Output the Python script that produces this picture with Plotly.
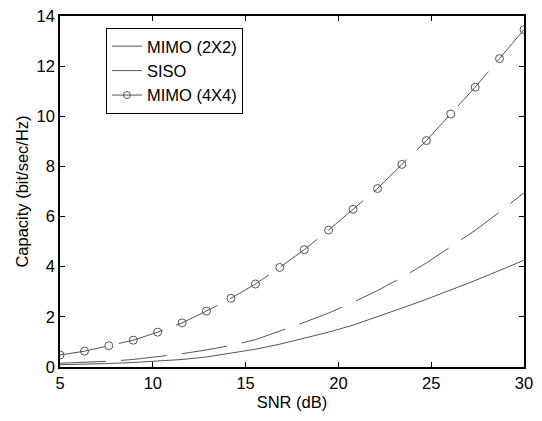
import plotly.graph_objects as go

snr_db = [5.00, 6.32, 7.63, 8.95, 10.26, 11.58, 12.89, 14.21, 15.53, 16.84,
          18.16, 19.47, 20.79, 22.11, 23.42, 24.74, 26.05, 27.37, 28.68, 30.00]
cap_mimo2 = [0.09, 0.11, 0.14, 0.18, 0.23, 0.30, 0.40, 0.54, 0.71, 0.91,
             1.14, 1.39, 1.67, 2.00, 2.35, 2.70, 3.06, 3.45, 3.85, 4.26]
cap_siso = [0.15, 0.19, 0.23, 0.30, 0.40, 0.53, 0.68, 0.86, 1.09, 1.42,
            1.78, 2.15, 2.58, 3.05, 3.57, 4.15, 4.78, 5.45, 6.18, 6.95]
cap_mimo4 = [0.48, 0.63, 0.85, 1.07, 1.39, 1.76, 2.23, 2.74, 3.31, 3.97,
             4.68, 5.46, 6.29, 7.12, 8.08, 9.03, 10.09, 11.16, 12.30, 13.46]
names = ["MIMO (2X2)", "SISO", "MIMO (4X4)"]
x_ticks = [5, 10, 15, 20, 25, 30]
y_ticks = [0, 2, 4, 6, 8, 10, 12, 14]

LC = "#555555"
FONT = "Liberation Sans, Arial, sans-serif"
FS = 16.5

fig = go.Figure()
fig.add_trace(go.Scatter(x=snr_db, y=cap_mimo2, mode="lines", showlegend=False,
                         line=dict(color=LC, width=1)))
fig.add_trace(go.Scatter(x=snr_db, y=cap_siso, mode="lines", showlegend=False,
                         line=dict(color=LC, width=1, dash="46px,15px")))
fig.add_trace(go.Scatter(x=snr_db, y=cap_mimo4, mode="lines+markers", showlegend=False,
                         line=dict(color=LC, width=1, dash="46px,14px"),
                         marker=dict(symbol="circle-open", size=8, color=LC,
                                     line=dict(width=1, color=LC))))
# legend entries (solid samples, as in the reference)
fig.add_trace(go.Scatter(x=[None], y=[None], mode="lines", name=names[0],
                         line=dict(color=LC, width=1)))
fig.add_trace(go.Scatter(x=[None], y=[None], mode="lines", name=names[1],
                         line=dict(color=LC, width=1)))
fig.add_trace(go.Scatter(x=[None], y=[None], mode="lines+markers", name=names[2],
                         line=dict(color=LC, width=1),
                         marker=dict(symbol="circle-open", size=7, color=LC,
                                     line=dict(width=1, color=LC))))

axis_common = dict(showline=True, linecolor="black", linewidth=1.5, mirror="ticks",
                   ticks="inside", ticklen=5, tickcolor="black", tickwidth=1,
                   showgrid=False, zeroline=False, ticklabeloverflow="allow",
                   tickfont=dict(family=FONT, size=FS, color="black"))
fig.update_xaxes(range=[5, 30], tickvals=x_ticks,
                 title=dict(text="SNR (dB)", font=dict(family=FONT, size=FS, color="black"),
                            standoff=6),
                 **axis_common)
fig.update_yaxes(range=[0, 14], tickvals=y_ticks,
                 title=dict(text="Capacity (bit/sec/Hz)",
                            font=dict(family=FONT, size=FS, color="black"), standoff=4),
                 **axis_common)

fig.update_layout(
    width=542, height=421,
    margin=dict(l=60, r=18, t=7, b=54),
    paper_bgcolor="white", plot_bgcolor="white",
    font=dict(family=FONT, size=FS, color="black"),
    legend=dict(x=0.099, y=0.966, xanchor="left", yanchor="top",
                bgcolor="white", bordercolor="black", borderwidth=1,
                font=dict(family=FONT, size=FS, color="black"),
                itemwidth=30, tracegroupgap=0),
)

fig.write_html("out.html", config={"displayModeBar": False},
               post_script="document.body.style.margin='0';document.body.style.padding='0';")
